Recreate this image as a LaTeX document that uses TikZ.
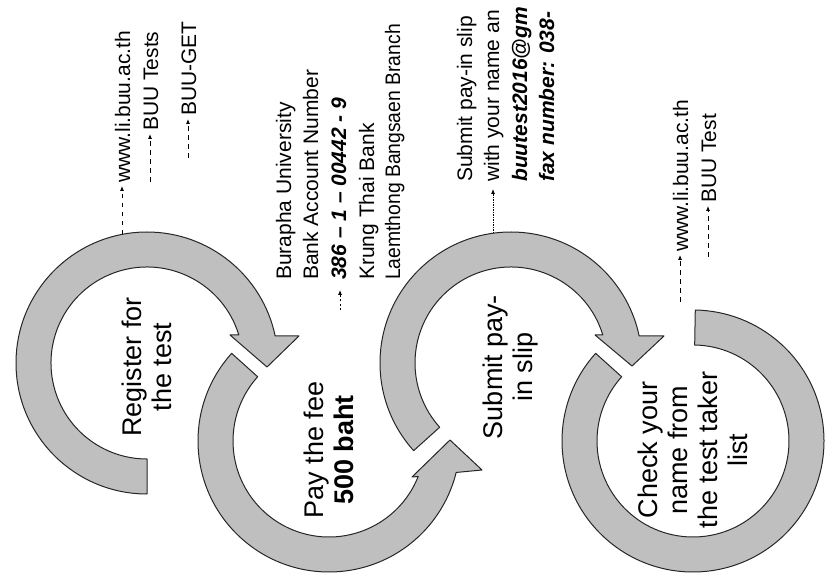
\documentclass[tikz,border=0pt]{standalone}
\usepackage{fontspec}
\setmainfont{Liberation Sans}
\usetikzlibrary{arrows.meta}
\begin{document}
\begin{tikzpicture}[x=1pt,y=1pt,
  ring/.style={fill=black!25, draw=black!85, line width=1pt, line join=round},
  small/.style={font=\fontsize{21}{26}\selectfont, rotate=90, anchor=base west, inner sep=0pt},
  bi/.style={font=\fontsize{21}{26}\selectfont\bfseries\itshape},
  big/.style={font=\fontsize{27}{30}\selectfont, rotate=90, align=center, inner sep=0pt},
  link/.style={dash pattern=on 4.5pt off 4.5pt, line width=0.8pt, -{Latex[length=5pt,width=4pt]}, shorten >=3pt},
  linkb/.style={dash pattern=on 2pt off 2.5pt, line width=0.8pt, -{Latex[length=5pt,width=4pt]}, shorten >=10pt},
  linkc/.style={dash pattern=on 1.5pt off 1pt, line width=0.8pt, -{Latex[length=5pt,width=4pt]}, shorten >=7pt},
]
\useasboundingbox (0,0) rectangle (827,584);
\clip (0,0) rectangle (827,584);

% ring 1
\begin{scope}[shift={(147,221)}]
\path[ring] (270:131) arc[start angle=270, end angle=11.9, radius=131]
  -- (152,27) -- (120,-4) -- (83,28) -- (17:96)
  arc[start angle=17, end angle=270, radius=96] -- cycle;
\end{scope}
% ring 2
\begin{scope}[shift={(329,143)}]
\path[ring] (138:131) arc[start angle=138, end angle=346.1, radius=131]
  -- (153,-29) -- (121,1) -- (83,-36) -- (338.3:96)
  arc[start angle=338.3, end angle=138, radius=96] -- cycle;
\end{scope}
% ring 3
\begin{scope}[shift={(511,221)}]
\path[ring] (222:131) arc[start angle=222, end angle=11.9, radius=131]
  -- (153,27) -- (121,-3) -- (84,28) -- (17:96)
  arc[start angle=17, end angle=222, radius=96] -- cycle;
\end{scope}
% ring 4
\begin{scope}[shift={(693,143)}]
\path[ring] (138:131) arc[start angle=138, end angle=449, radius=131]
  -- (449:96) arc[start angle=449, end angle=138, radius=96] -- cycle;
\end{scope}

% ring labels
\node[big] (lab1) at (147,217) {Register for\\the test};
\node[big] (lab2) at (329,134) {Pay the fee\\\textbf{500 baht}};
\node[big] (lab3) at (511,217) {Submit pay-\\in slip};
\node[big] (lab4) at (693,134) {Check your\\name from\\the test taker\\list};

% step 1 notes
\node[small] (www1) at (130,401) {www.li.buu.ac.th};
\node[small] (tests1) at (158,453) {BUU Tests};
\node[small] (get1) at (196,468) {BUU-GET};
\coordinate (r1top) at (122,349.6);
\coordinate (c1) at (150,402);
\coordinate (c2) at (188,426);
\draw[link] (r1top) -- (r1top |- www1.west);
\draw[link] (c1) -- (c1 |- tests1.west);
\draw[link] (c2) -- (c2 |- get1.west);

% step 2 notes
\node[small] (bu1) at (291,304) {Burapha University};
\node[small] (bu2) at (318,304) {Bank Account Number};
\node[small,bi] (bu3) at (346,304) {386 -- 1 -- 00442 - 9};
\node[small] (bu4) at (374,304) {Krung Thai Bank};
\node[small] (bu5) at (400,304) {\scalebox{0.92}[1]{Laemthong Bangsaen Branch}};
\coordinate (r2top) at (340,273.5);
\draw[linkb] (r2top) -- (r2top |- bu3.west);

% step 3 notes
\node[small] (sb1) at (472,402) {Submit pay-in slip};
\node[small] (sb2) at (499,402) {with your name an};
\node[small,bi] (sb3) at (527,402) {buutest2016@gm};
\node[small,bi] (sb4) at (554,402) {fax number: 038-};
\coordinate (r3top) at (493,350.8);
\draw[linkc] (r3top) -- (r3top |- sb2.west);

% step 4 notes
\node[small] (www4) at (688,332) {www.li.buu.ac.th};
\node[small] (test4) at (716,381) {BUU Test};
\coordinate (r4top) at (680,282);
\coordinate (c4) at (708,327);
\draw[link] (r4top) -- (r4top |- www4.west);
\draw[link] (c4) -- (c4 |- test4.west);
\end{tikzpicture}
\end{document}
